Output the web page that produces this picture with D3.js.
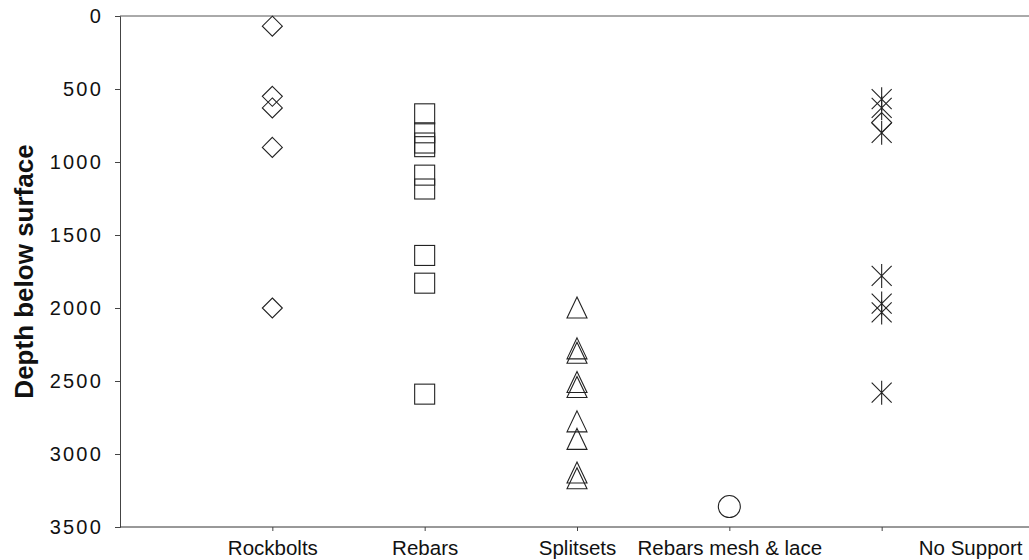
<!DOCTYPE html>
<html>
<head>
<meta charset="utf-8">
<script src="https://cdn.jsdelivr.net/npm/d3@7"></script>
<style>
  html, body { margin: 0; padding: 0; background: #fff; }
  svg { display: block; font-family: "Liberation Sans", Arial, sans-serif; }
</style>
</head>
<body>
<svg id="chart" width="1029" height="560"></svg>
<script>
// ---- data ----
const categories = ["Rockbolts", "Rebars", "Splitsets", "Rebars mesh & lace", "No Support"];
const yTicks = [0, 500, 1000, 1500, 2000, 2500, 3000, 3500];
const rockbolts = [70, 550, 630, 900, 2000];
const rebars = [670, 800, 870, 895, 1090, 1185, 1640, 1830, 2590];
const splitsets = [2000, 2280, 2310, 2510, 2545, 2780, 2900, 3130, 3170];
const meshLace = [3360];
const noSupport = [570, 630, 800, 1780, 1970, 2030, 2580];
const noSupportDiamond = [730];
const yTitle = "Depth below surface";

(function () {
// ---- layout ----
const svg = d3.select("#chart");
const mLeft = 120, mTop = 16, mBottom = 527, rightExt = 1034;

const x = d3.scalePoint().domain(categories).range([mLeft, rightExt]).padding(1);
const y = d3.scaleLinear().domain([0, 3500]).range([mTop, mBottom]);

const ink = "#222";

// frame: top line
svg.append("line").attr("x1", mLeft).attr("x2", 1029).attr("y1", mTop).attr("y2", mTop)
  .attr("stroke", "#555").attr("stroke-width", 1);

// y axis
const yAxis = svg.append("g").attr("transform", `translate(${mLeft},0)`)
  .call(d3.axisLeft(y).tickValues(yTicks).tickFormat(d3.format("d")).tickSize(5).tickPadding(12));
yAxis.select(".domain").attr("stroke", "#444");
yAxis.selectAll(".tick line").attr("stroke", "#444");
yAxis.selectAll(".tick text").attr("font-size", 20).attr("fill", "#111")
  .attr("letter-spacing", "2.2px").attr("font-family", "'Liberation Sans', Arial, sans-serif");

// x axis
const xAxis = svg.append("g").attr("transform", `translate(0,${mBottom})`)
  .call(d3.axisBottom(x).tickSize(4).tickPadding(9));
xAxis.select(".domain").attr("stroke", "#333").attr("d", `M${mLeft},0H1029`);
xAxis.selectAll(".tick line").attr("stroke", "#444");
xAxis.selectAll(".tick text").attr("font-size", 20.5).attr("fill", "#111")
  .attr("font-family", "'Liberation Sans', Arial, sans-serif");
xAxis.selectAll(".tick").filter(d => d === "No Support").select("text")
  .attr("text-anchor", "end").attr("x", 1022 - x("No Support"));

// y title
svg.append("text")
  .attr("transform", `translate(33,${(143 + 400) / 2}) rotate(-90)`)
  .attr("text-anchor", "middle")
  .attr("font-size", 26).attr("font-weight", "bold").attr("fill", "#111")
  .text(yTitle);

// ---- markers ----
const g = svg.append("g").attr("fill", "none").attr("stroke", ink).attr("stroke-width", 1.1);

function diamond(sel, cx, vals) {
  sel.selectAll(null).data(vals).enter().append("path")
    .attr("d", d => { const cy = y(d), s = 10; return `M${cx},${cy - s}L${cx + s},${cy}L${cx},${cy + s}L${cx - s},${cy}Z`; });
}
function square(sel, cx, vals) {
  sel.selectAll(null).data(vals).enter().append("rect")
    .attr("x", cx - 10).attr("y", d => y(d) - 10).attr("width", 20).attr("height", 20);
}
function triangle(sel, cx, vals) {
  sel.selectAll(null).data(vals).enter().append("path")
    .attr("d", d => { const cy = y(d); return `M${cx},${cy - 11}L${cx + 10},${cy + 10}L${cx - 10},${cy + 10}Z`; });
}
function circle(sel, cx, vals) {
  sel.selectAll(null).data(vals).enter().append("circle")
    .attr("cx", cx).attr("cy", d => y(d)).attr("r", 11);
}
function star(sel, cx, vals) {
  sel.selectAll(null).data(vals).enter().append("path")
    .attr("d", d => { const cy = y(d), a = 10, v = 12;
      return `M${cx - a},${cy - a}L${cx + a},${cy + a}M${cx + a},${cy - a}L${cx - a},${cy + a}M${cx},${cy - v}L${cx},${cy + v}`; });
}

diamond(g.append("g"), x("Rockbolts"), rockbolts);
square(g.append("g"), x("Rebars"), rebars);
triangle(g.append("g"), x("Splitsets"), splitsets);
circle(g.append("g"), x("Rebars mesh & lace"), meshLace);
star(g.append("g"), x("No Support"), noSupport);
diamond(g.append("g"), x("No Support"), noSupportDiamond);
})();
</script>
</body>
</html>
